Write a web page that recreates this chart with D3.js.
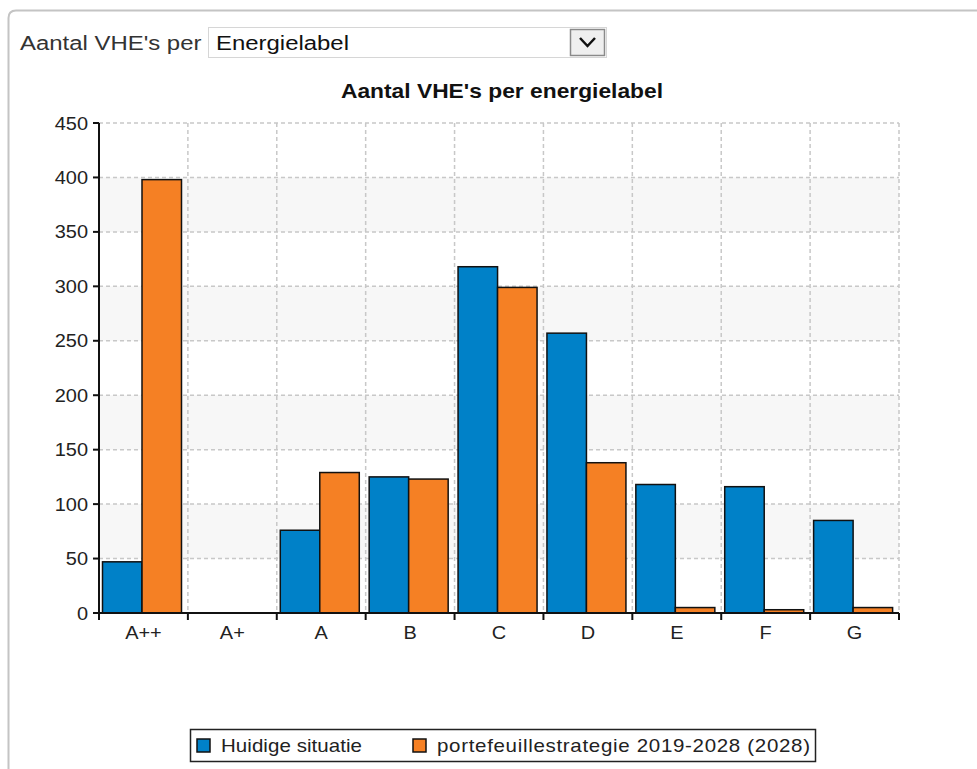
<!DOCTYPE html>
<html>
<head>
<meta charset="utf-8">
<script src="https://cdn.jsdelivr.net/npm/d3@7"></script>
<style>
  body { margin: 0; background: #fff; }
  text { font-family: "Liberation Sans", Arial, sans-serif; }
</style>
</head>
<body>
<div class="chartDiv"></div>
<script>
var categories = ["A++", "A+", "A", "B", "C", "D", "E", "F", "G"];
var huidige = [47, 0, 76, 125, 318, 257, 118, 116, 85];
var strategie = [398, 0, 129, 123, 299, 138, 5, 3, 5];
var seriesNames = ["Huidige situatie", "portefeuillestrategie 2019-2028 (2028)"];
var seriesColors = ["#0081c8", "#f58024"];
var yTicks = [0, 50, 100, 150, 200, 250, 300, 350, 400, 450];

var W = 977, H = 769;
var stretch = 1.14;   // screenshot text looks a bit wider than plain Arial

var svg = d3.select(".chartDiv").append("svg")
    .attr("width", W)
    .attr("height", H);

function addText(parent, x, y, str, size, anchor, weight, color) {
    return parent.append("text")
        .attr("transform", "translate(" + x + "," + y + ") scale(" + stretch + ",1)")
        .attr("text-anchor", anchor || "start")
        .style("font-size", size + "px")
        .style("font-weight", weight || "normal")
        .style("fill", color || "#222")
        .text(str);
}

// panel frame
svg.append("path")
    .attr("d", "M8.5," + H + " L8.5,18 Q8.5,10.5 16,10.5 L" + W + ",10.5")
    .attr("fill", "none")
    .attr("stroke", "#c4c4c4")
    .attr("stroke-width", 2);

// dropdown row
addText(svg, 20, 50, "Aantal VHE's per", 21, "start", "normal", "#333");

svg.append("rect")
    .attr("x", 208.5).attr("y", 27.5)
    .attr("width", 398).attr("height", 30)
    .attr("fill", "#fff")
    .attr("stroke", "#d6d6d6");

addText(svg, 216, 50, "Energielabel", 21, "start", "normal", "#111");

svg.append("rect")
    .attr("x", 570.5).attr("y", 29.5)
    .attr("width", 34).attr("height", 26)
    .attr("fill", "#efefef")
    .attr("stroke", "#8a8a8a")
    .attr("stroke-width", 1.5);

svg.append("path")
    .attr("d", "M580,38 L587.5,46 L595,38")
    .attr("fill", "none")
    .attr("stroke", "#111")
    .attr("stroke-width", 2.5);

// chart
var plot = { left: 99, right: 899, top: 123, bottom: 613 };

var x0 = d3.scaleBand()
    .domain(categories)
    .range([plot.left, plot.right])
    .padding(0);

var x1 = d3.scaleBand()
    .domain([0, 1])
    .range([3.5, 82.5])
    .padding(0);

var y = d3.scaleLinear()
    .domain([0, 450])
    .range([plot.bottom, plot.top]);

addText(svg, 502, 98, "Aantal VHE's per energielabel", 20, "middle", "bold", "#111");

// shaded bands
var bands = yTicks.filter(function(t, i) { return i % 2 == 1 && i < yTicks.length - 1; });
svg.append("g").selectAll("rect")
    .data(bands)
    .join("rect")
    .attr("x", plot.left)
    .attr("y", function(d) { return y(d + 50); })
    .attr("width", plot.right - plot.left)
    .attr("height", function(d) { return y(d) - y(d + 50); })
    .attr("fill", "#f7f7f7");

// grid
var grid = svg.append("g")
    .attr("stroke", "#c8c8c8")
    .attr("stroke-width", 1.5)
    .attr("stroke-dasharray", "4,3");

grid.selectAll("line.h")
    .data(yTicks.slice(1))
    .join("line")
    .attr("class", "h")
    .attr("x1", plot.left).attr("x2", plot.right)
    .attr("y1", function(d) { return y(d); })
    .attr("y2", function(d) { return y(d); });

grid.selectAll("line.v")
    .data(categories)
    .join("line")
    .attr("class", "v")
    .attr("x1", function(d) { return x0(d) + x0.bandwidth(); })
    .attr("x2", function(d) { return x0(d) + x0.bandwidth(); })
    .attr("y1", plot.top).attr("y2", plot.bottom);

// bars
var rows = categories.map(function(c, i) {
    return { cat: c, values: [huidige[i], strategie[i]] };
});

var groups = svg.append("g").selectAll("g")
    .data(rows)
    .join("g")
    .attr("transform", function(d) { return "translate(" + x0(d.cat) + ",0)"; });

groups.selectAll("rect")
    .data(function(d) { return d.values.map(function(v, k) { return { k: k, v: v }; }).filter(function(e) { return e.v > 0; }); })
    .join("rect")
    .attr("x", function(d) { return x1(d.k); })
    .attr("y", function(d) { return y(d.v); })
    .attr("width", x1.bandwidth())
    .attr("height", function(d) { return y(0) - y(d.v); })
    .attr("fill", function(d) { return seriesColors[d.k]; })
    .attr("stroke", "#111")
    .attr("stroke-width", 1.5);

// axes
var axes = svg.append("g").attr("stroke", "#111").attr("stroke-width", 2);

axes.append("line")
    .attr("x1", plot.left).attr("x2", plot.left)
    .attr("y1", plot.top).attr("y2", plot.bottom);
axes.append("line")
    .attr("x1", plot.left - 6).attr("x2", plot.right)
    .attr("y1", plot.bottom).attr("y2", plot.bottom);

axes.selectAll("line.yt")
    .data(yTicks)
    .join("line")
    .attr("class", "yt")
    .attr("x1", plot.left - 6).attr("x2", plot.left)
    .attr("y1", function(d) { return y(d); })
    .attr("y2", function(d) { return y(d); });

var xEdges = [plot.left].concat(categories.map(function(c) { return x0(c) + x0.bandwidth(); }));
axes.selectAll("line.xt")
    .data(xEdges)
    .join("line")
    .attr("class", "xt")
    .attr("x1", function(d) { return d; })
    .attr("x2", function(d) { return d; })
    .attr("y1", plot.bottom).attr("y2", plot.bottom + 7);

yTicks.forEach(function(t) {
    addText(svg, plot.left - 11, y(t) + 6.5, t, 17.5, "end");
});

categories.forEach(function(c) {
    addText(svg, x0(c) + x0.bandwidth() / 2, 639, c, 17.5, "middle");
});

// legend
var legend = svg.append("g");
legend.append("rect")
    .attr("x", 190.5).attr("y", 729.5)
    .attr("width", 625).attr("height", 32)
    .attr("fill", "#fff")
    .attr("stroke", "#222")
    .attr("stroke-width", 1.5);

var legendX = [197, 413];
var legendTextW = [141, 373];
seriesNames.forEach(function(name, i) {
    legend.append("rect")
        .attr("x", legendX[i]).attr("y", 739)
        .attr("width", 13).attr("height", 13)
        .attr("fill", seriesColors[i])
        .attr("stroke", "#111")
        .attr("stroke-width", 1.5);
    addText(legend, legendX[i] + 24, 752, name, 18, "start")
        .attr("textLength", legendTextW[i] / stretch)
        .attr("lengthAdjust", "spacing");
});
</script>
</body>
</html>
